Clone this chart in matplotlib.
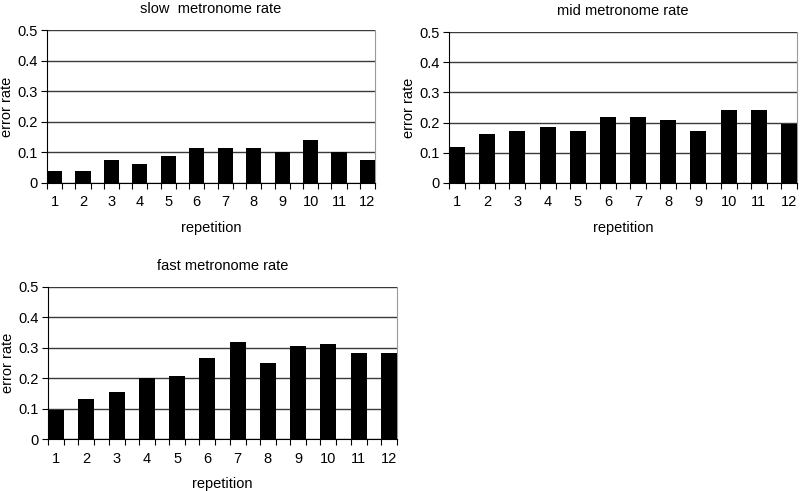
import numpy as np
import matplotlib.pyplot as plt

plt.rcParams['font.family'] = ['Liberation Sans', 'DejaVu Sans']

repetitions = [str(i) for i in range(1, 13)]
slow_rate = [0.039, 0.039, 0.076, 0.063, 0.089, 0.115, 0.115, 0.115, 0.100, 0.140, 0.100, 0.076]
mid_rate = [0.118, 0.162, 0.173, 0.185, 0.173, 0.220, 0.220, 0.209, 0.173, 0.243, 0.243, 0.196]
fast_rate = [0.094, 0.132, 0.154, 0.200, 0.207, 0.268, 0.320, 0.251, 0.305, 0.312, 0.282, 0.282]

panels = [
    ("slow  metronome rate", slow_rate, [0.05875, 0.6273, 0.41, 0.3116]),
    ("mid metronome rate", mid_rate, [0.56125, 0.6273, 0.435, 0.3075]),
    ("fast metronome rate", fast_rate, [0.06, 0.1059, 0.436, 0.3096]),
]

bar_w = 0.53
fs = 10.5

fig = plt.figure(figsize=(8, 4.91), dpi=100)

for title, values, rect in panels:
    ax = fig.add_axes(rect)
    x = np.arange(len(values))
    ax.bar(x, values, width=bar_w, color='black', zorder=3)
    ax.set_xlim(-bar_w / 2, len(values) - 1 + bar_w / 2)
    ax.set_ylim(0, 0.5)

    # horizontal grid lines
    ax.set_yticks([0, 0.1, 0.2, 0.3, 0.4, 0.5])
    ax.set_yticklabels(['0', '0.1', '0.2', '0.3', '0.4', '0.5'])
    ax.yaxis.grid(True, color='#3a3a3a', linewidth=1.0, zorder=0)

    # category labels under bars, tick marks at bar edges
    ax.set_xticks(x)
    ax.set_xticklabels(repetitions)
    edges = np.concatenate([x - bar_w / 2, x + bar_w / 2])
    ax.set_xticks(edges, minor=True)
    ax.tick_params(axis='x', which='major', length=0, pad=9, labelsize=fs)
    ax.tick_params(axis='x', which='minor', length=4, width=0.8, direction='out', color='black')
    ax.tick_params(axis='y', length=4, width=0.8, direction='out', pad=3, labelsize=fs)

    ax.spines['top'].set_visible(False)
    ax.spines['right'].set_color('#9a9a9a')
    ax.spines['left'].set_color('black')
    ax.spines['bottom'].set_color('black')

    ax.set_title(title, fontsize=fs, pad=12)
    ax.set_xlabel('repetition', fontsize=fs, labelpad=8)
    ax.set_ylabel('error rate', fontsize=fs, labelpad=2)

fig.savefig('out.png', dpi=100)
